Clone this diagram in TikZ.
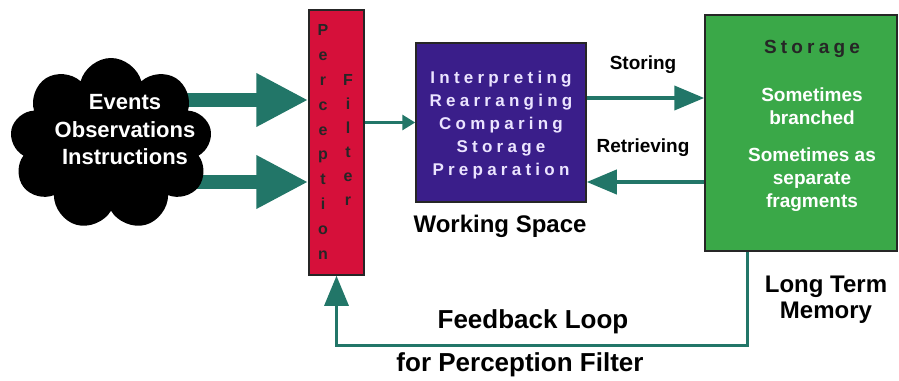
\documentclass[tikz,border=0pt]{standalone}
\usepackage{fontspec}
\setmainfont{Liberation Sans}
\usepackage{tikz}
\usetikzlibrary{arrows.meta, shapes.symbols, calc}
\usetikzlibrary{positioning}
\definecolor{arrteal}{RGB}{34,118,104}
\definecolor{filtred}{RGB}{214,16,58}
\definecolor{workpur}{RGB}{58,30,138}
\definecolor{memgrn}{RGB}{58,168,72}
\definecolor{lavtext}{RGB}{235,228,255}

\begin{document}
\begin{tikzpicture}[x=1pt, y=-1pt,
  bigarrow/.style={arrteal, line width=14pt, -{Triangle[length=52pt,width=50pt]}},
  midarrow/.style={arrteal, line width=4pt, -{Triangle[length=30pt,width=24pt]}},
  thinarrow/.style={arrteal, line width=3pt, -{Triangle[length=13pt,width=15pt]}},
  fbarrow/.style={arrteal, line width=3pt, -{Triangle[length=30pt,width=24pt]}},
  box/.style={draw=black!85, line width=1.5pt, inner sep=0pt},
  blabel/.style={font=\bfseries\fontsize{24}{26}\selectfont, align=center},
  slabel/.style={font=\bfseries\fontsize{19}{21}\selectfont},
]
\useasboundingbox (0,0) rectangle (899,380);

% boxes
\node[box, fill=filtred, minimum width=55pt, minimum height=265pt] (pf) at (336.5,142.5) {};
\node[box, fill=workpur, minimum width=170pt, minimum height=159pt] (ws) at (501,122.5) {};
\node[box, fill=memgrn, minimum width=192pt, minimum height=236pt] (ltm) at (801,133) {};

% input arrows, under the cloud
\coordinate (ev1) at (175,100);
\coordinate (ev2) at (190,182);
\draw[bigarrow] (ev1) -- (ev1 -| pf.west);
\draw[bigarrow] (ev2) -- (ev2 -| pf.west);

\node[cloud, cloud puffs=9, aspect=1.15, fill=black, inner sep=0pt,
      minimum width=202pt, minimum height=172pt] (ev) at (111,144) {};
\node[align=center, white, font=\bfseries\fontsize{22}{27.5}\selectfont] (evt) at (125,130)
  {Events\\Observations\\Instructions};

% filter letters
\node[align=center, black!85, font=\bfseries\fontsize{16}{24.8}\selectfont] (pft1) at (323,142)
  {P\\e\\r\\c\\e\\p\\t\\i\\o\\n};
\node[align=center, black!85, font=\bfseries\fontsize{16}{24}\selectfont] (pft2) at (348,140)
  {F\\i\\l\\t\\e\\r};

\draw[thinarrow] (pf.east |- ws.west) -- (ws.west);

% working space
\node[align=center, lavtext, font=\bfseries\fontsize{17}{23}\selectfont\addfontfeature{LetterSpace=25}] (wst) at (501,125)
  {Interpreting\\Rearranging\\Comparing\\Storage\\Preparation};
\node[blabel] (wsl) at (500,226) {Working Space};

% storing and retrieving
\coordinate (sto) at ($(ws.east)+(0,-24.5)$);
\coordinate (ret) at ($(ws.east)+(0,59.5)$);
\draw[midarrow] (sto) -- (sto -| ltm.west);
\draw[midarrow] (ret -| ltm.west) -- (ret);
\node[slabel] (stol) at (643,65) {Storing};
\node[slabel] (retl) at (643,148) {Retrieving};

% long term memory
\node[align=center, white, font=\bfseries\fontsize{19}{23}\selectfont] (ltmt) at (812,126)
  {{\color{black!85}\addfontfeature{LetterSpace=22}Storage}\\[25pt]
   Sometimes\\branched\\[14pt]Sometimes as\\separate\\fragments};
\node[blabel] (ltml) at (826,300) {Long Term\\Memory};

% feedback loop
\coordinate (fb) at (747,345);
\draw[fbarrow] (ltm.south -| fb) -- (fb) -- (fb -| pf.south) -- (pf.south);
\node[font=\bfseries\fontsize{26}{28}\selectfont] (fbl1) at (533,322) {Feedback Loop};
\node[font=\bfseries\fontsize{26}{28}\selectfont] (fbl2) at (520,365) {for Perception Filter};

\end{tikzpicture}
\end{document}
